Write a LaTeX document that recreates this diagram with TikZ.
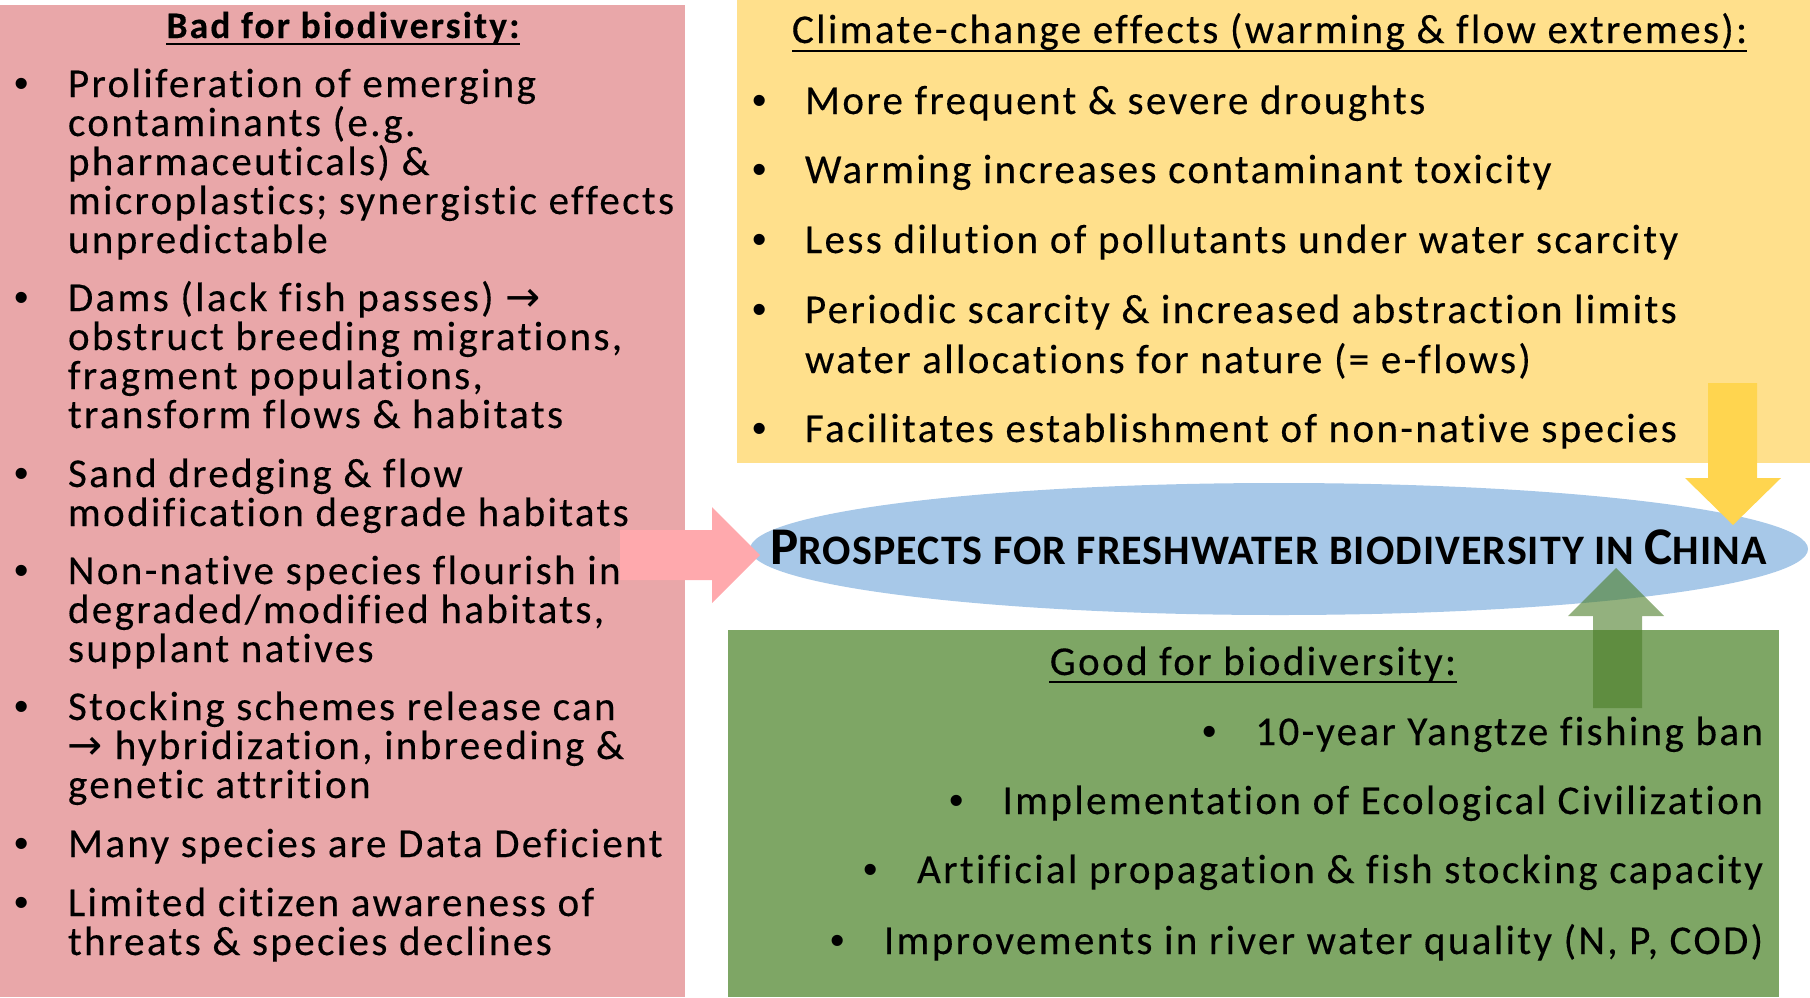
\documentclass[tikz,border=0pt]{standalone}
\usepackage{fontspec}
\setmainfont{Carlito}[LetterSpace=5.8, Ligatures=NoCommon, FakeBold=0.3]
\newfontfamily\ellfont{Carlito}[LetterSpace=2.5, Ligatures=NoCommon]
\newfontfamily\symfont{DejaVu Sans}
\newfontfamily\bulfont{Liberation Sans}
\usetikzlibrary{shapes.geometric}
\definecolor{pinkbox}{HTML}{E9A7A9}
\definecolor{yellowbox}{HTML}{FFE08C}
\definecolor{greenbox}{HTML}{7EA665}
\definecolor{bluell}{HTML}{A7C8E8}
\definecolor{pinkarrow}{HTML}{FFA9AD}
\definecolor{yellowarrow}{HTML}{FFD54F}
\definecolor{greenarrow}{HTML}{4B7D28}
\tikzset{
  panel/.style={rectangle, inner sep=0pt, outer sep=0pt, draw=none, anchor=north west},
  txt/.style={anchor=base west, inner sep=0pt, outer sep=0pt, font=\fontsize{20.5pt}{24pt}\selectfont},
  txtr/.style={anchor=base east, inner sep=0pt, outer sep=0pt, font=\fontsize{20.5pt}{24pt}\selectfont},
  bul/.style={anchor=base, inner sep=0pt, outer sep=0pt, font=\bulfont\fontsize{20.5pt}{24pt}\selectfont},
  uline/.style={line width=1.1pt, black},
}
\newcommand\tl[4]{\node[txt] (#1) at (#2,#3) {#4};}
\newcommand\rarr{{\symfont\fontsize{21pt}{20pt}\selectfont →}}
\begin{document}
\begin{tikzpicture}[x=0.5pt, y=-0.5pt]
\useasboundingbox (0,0) rectangle (1810,997);
% panels
\node[panel, fill=pinkbox, minimum width=342.5pt, minimum height=496pt] (bad) at (0,5) {};
\node[panel, fill=yellowbox, minimum width=536.5pt, minimum height=231.5pt] (clim) at (737,0) {};
\node[panel, fill=greenbox, minimum width=525.5pt, minimum height=183.5pt] (good) at (728,630) {};
\node[ellipse, fill=bluell, inner sep=0pt, minimum width=529pt, minimum height=66pt] (prosp) at (1279,549) {};
% block arrows
\fill[pinkarrow] (620,530) -- (712,530) -- (712,507) -- (760,555) -- (712,603) -- (712,580) -- (620,580) -- cycle;
\fill[yellowarrow] (1708,383) -- (1757,383) -- (1757,478) -- (1781,478) -- (1733,525) -- (1685,478) -- (1708,478) -- cycle;
\fill[greenarrow, opacity=0.6] (1593,708) -- (1642,708) -- (1642,616) -- (1664,616) -- (1616,568) -- (1568,616) -- (1593,616) -- cycle;
% centre title
\node[anchor=base west, inner sep=0pt] (ptitle) at (770,564) {\ellfont\bfseries{\fontsize{26.5pt}{26pt}\selectfont P}{\fontsize{21pt}{21pt}\selectfont ROSPECTS FOR FRESHWATER BIODIVERSITY IN }{\fontsize{26.5pt}{26pt}\selectfont C}{\fontsize{21pt}{21pt}\selectfont HINA}};
% bad
\node[anchor=base, inner sep=0pt, font=\fontsize{18.7pt}{20pt}\selectfont\bfseries] (tbad) at (343,38) {Bad for biodiversity:};
\draw[uline] ([yshift=-3pt]tbad.base west) -- ([yshift=-3pt]tbad.base east);
\node[bul] (b1) at (22,97) {•};
\tl{l1a}{68}{97}{Proliferation of emerging}
\tl{l1b}{68}{136}{contaminants (e.g.}
\tl{l1c}{68}{175}{pharmaceuticals) \&}
\tl{l1d}{68}{214}{microplastics; synergistic effects}
\tl{l1e}{68}{253}{unpredictable}
\node[bul] (b2) at (22,311) {•};
\tl{l2a}{68}{311}{Dams (lack fish passes) \rarr}
\tl{l2b}{68}{350}{obstruct breeding migrations,}
\tl{l2c}{68}{389}{fragment populations,}
\tl{l2d}{68}{428}{transform flows \& habitats}
\node[bul] (b3) at (22,487) {•};
\tl{l3a}{68}{487}{Sand dredging \& flow}
\tl{l3b}{68}{526}{modification degrade habitats}
\node[bul] (b4) at (22,584) {•};
\tl{l4a}{68}{584}{Non-native species flourish in}
\tl{l4b}{68}{623}{degraded/modified habitats,}
\tl{l4c}{68}{662}{supplant natives}
\node[bul] (b5) at (22,720) {•};
\tl{l5a}{68}{720}{Stocking schemes release can}
\tl{l5b}{68}{759}{\rarr\ hybridization, inbreeding \&}
\tl{l5c}{68}{798}{genetic attrition}
\node[bul] (b6) at (22,857) {•};
\tl{l6a}{68}{857}{Many species are Data Deficient}
\node[bul] (b7) at (22,916) {•};
\tl{l7a}{68}{916}{Limited citizen awareness of}
\tl{l7b}{68}{955}{threats \& species declines}
% climate
\node[txt] (tclim) at (792,43) {Climate-change effects (warming \& flow extremes):};
\draw[uline] ([yshift=-4pt]tclim.base west) -- ([yshift=-4pt]tclim.base east);
\node[bul] (c1b) at (760,114) {•};
\tl{c1}{805}{114}{More frequent \& severe droughts}
\node[bul] (c2b) at (760,183) {•};
\tl{c2}{805}{183}{Warming increases contaminant toxicity}
\node[bul] (c3b) at (760,253) {•};
\tl{c3}{805}{253}{Less dilution of pollutants under water scarcity}
\node[bul] (c4b) at (760,323) {•};
\tl{c4}{805}{323}{Periodic scarcity \& increased abstraction limits}
\tl{c4x}{805}{373}{water allocations for nature (= e-flows)}
\node[bul] (c5b) at (760,442) {•};
\tl{c5}{805}{442}{Facilitates establishment of non-native species}
% good
\node[anchor=base, inner sep=0pt, font=\fontsize{20.5pt}{24pt}\selectfont] (tgood) at (1253,675) {Good for biodiversity:};
\draw[uline] ([yshift=-3.5pt]tgood.base west) -- ([yshift=-3.5pt]tgood.base east);
\node[txtr] (g1) at (1763,745) {10-year Yangtze fishing ban};
\node[bul] (g1b) at ([xshift=-23pt]g1.base west) {•};
\node[txtr] (g2) at (1763,814) {Implementation of Ecological Civilization};
\node[bul] (g2b) at ([xshift=-23pt]g2.base west) {•};
\node[txtr] (g3) at (1763,883) {Artificial propagation \& fish stocking capacity};
\node[bul] (g3b) at ([xshift=-23pt]g3.base west) {•};
\node[txtr] (g4) at (1763,954) {Improvements in river water quality (N, P, COD)};
\node[bul] (g4b) at ([xshift=-23pt]g4.base west) {•};
\end{tikzpicture}
\end{document}
